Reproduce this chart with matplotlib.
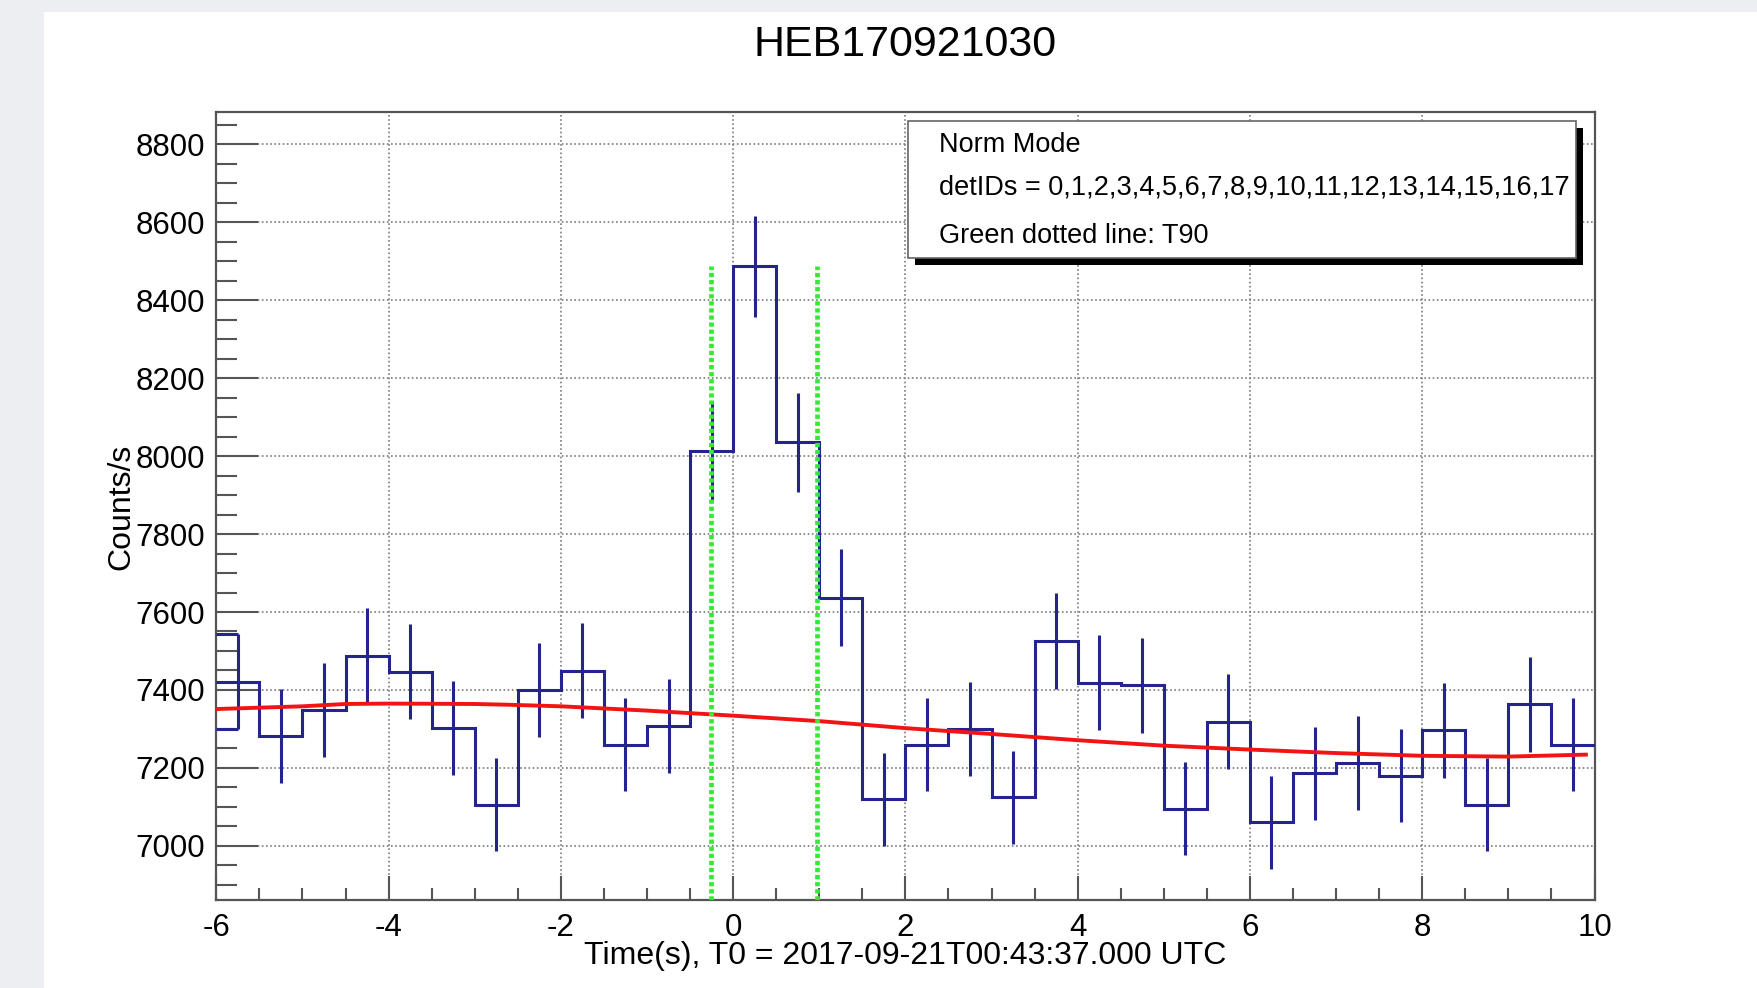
import numpy as np
import matplotlib.pyplot as plt
from matplotlib.patches import Rectangle
from matplotlib.ticker import MultipleLocator

plt.rcParams['font.family'] = ['Liberation Sans', 'DejaVu Sans']
plt.rcParams['axes.unicode_minus'] = False

# Light curve, 0.5 s bins from -6 s to 10 s (counts/s)
bin_width = 0.5
bin_edges = np.linspace(-6, 10, 33)
counts = [7421, 7281, 7349, 7487, 7447, 7302, 7106, 7400, 7449, 7260,
          7308, 8014, 8487, 8035, 7637, 7119, 7260, 7300, 7125, 7526,
          7419, 7412, 7095, 7319, 7060, 7186, 7213, 7180, 7296, 7106,
          7363, 7260]

# Background fit (red line)
bkg_t = [-6, -5, -4.5, -4, -3, -2.6, -2, -1, 0, 1, 2, 3, 4, 5, 6, 7, 8, 9, 9.9]
bkg = [7351, 7358, 7364, 7365, 7364, 7362, 7358, 7347, 7334, 7320,
       7302, 7287, 7271, 7257, 7247, 7238, 7231, 7229, 7234]

# T90 interval (green dotted lines)
t90 = [-0.26, 0.97]

title = 'HEB170921030'
xlabel = 'Time(s), T0 = 2017-09-21T00:43:37.000 UTC'
ylabel = 'Counts/s'
info_lines = ['Norm Mode',
              'detIDs = 0,1,2,3,4,5,6,7,8,9,10,11,12,13,14,15,16,17',
              'Green dotted line: T90']

W, H = 1757, 988
fig = plt.figure(figsize=(W / 100, H / 100), dpi=100)
fig.patch.set_facecolor('#eceef1')
fig.add_artist(Rectangle((44 / W, 0), 1 - 44 / W, 1 - 12 / H,
                         transform=fig.transFigure, facecolor='white',
                         edgecolor='none', zorder=0))

ax = fig.add_axes([216.3 / W, 1 - 900 / H, 1378.2 / W, 788 / H])
ax.set_facecolor('white')

counts = np.array(counts)
centers = 0.5 * (bin_edges[:-1] + bin_edges[1:])
errors = np.sqrt(counts / bin_width)

blue = '#24248c'
ax.stairs(counts, bin_edges, baseline=None, color=blue, lw=2.2, zorder=4)
ax.errorbar(centers, counts, yerr=errors, fmt='none', ecolor=blue,
            elinewidth=2.2, capsize=0, zorder=4)
# first bin error box edges reach the frame
ax.hlines([counts[0] - errors[0], counts[0] + errors[0]], bin_edges[0],
          centers[0], color=blue, lw=2.2, zorder=4)

ax.plot(bkg_t, bkg, color='#f21414', lw=2.8, zorder=5)

ylo, yhi = 6861, 8883
for t in t90:
    ax.plot([t, t], [ylo, counts.max()], color='#3ae63a', lw=3.4,
            linestyle=(0, (0.9, 0.6)), zorder=6)

ax.set_xlim(-6, 10)
ax.set_ylim(ylo, yhi)
ax.xaxis.set_major_locator(MultipleLocator(2))
ax.xaxis.set_minor_locator(MultipleLocator(0.5))
ax.yaxis.set_major_locator(MultipleLocator(200))
ax.yaxis.set_minor_locator(MultipleLocator(50))

tick_col = '#555555'
ax.tick_params(axis='y', which='major', direction='in', length=30, width=1.5,
               color=tick_col, labelsize=22.5, pad=8)
ax.tick_params(axis='y', which='minor', direction='in', length=15, width=1.5,
               color=tick_col)
ax.tick_params(axis='x', which='major', direction='in', length=17, width=1.5,
               color=tick_col, labelsize=22.5, pad=9)
ax.tick_params(axis='x', which='minor', direction='in', length=8.5, width=1.5,
               color=tick_col)
for s in ax.spines.values():
    s.set_color('#555555')
    s.set_linewidth(1.6)

ax.grid(True, which='major', color='#7a7a7a', lw=1.2, linestyle=(0, (1, 1.5)))
ax.set_axisbelow(True)

fig.text(905 / W, 1 - 45 / H, title, ha='center', va='center', fontsize=31)
fig.text(905 / W, 1 - 956 / H, xlabel, ha='center', va='center', fontsize=23)
fig.text(121 / W, 1 - 507 / H, ylabel, ha='center', va='center', fontsize=23,
         rotation=90)

# info box with ROOT-style shadow
bx0, bx1, by0, by1 = 907.6, 1576, 120.7, 258
fig.add_artist(Rectangle(((bx0 + 7) / W, 1 - (by1 + 7) / H), (bx1 - bx0) / W,
                         (by1 - by0) / H, transform=fig.transFigure,
                         facecolor='black', edgecolor='none', zorder=7))
fig.add_artist(Rectangle((bx0 / W, 1 - by1 / H), (bx1 - bx0) / W,
                         (by1 - by0) / H, transform=fig.transFigure,
                         facecolor='white', edgecolor='#666666', lw=1.2,
                         zorder=8))
for line, yy in zip(info_lines, [144.5, 188, 236]):
    fig.text(939 / W, 1 - yy / H, line, ha='left', va='center', fontsize=19.5,
             zorder=9)

fig.savefig('out.png', dpi=100)
plt.close()
